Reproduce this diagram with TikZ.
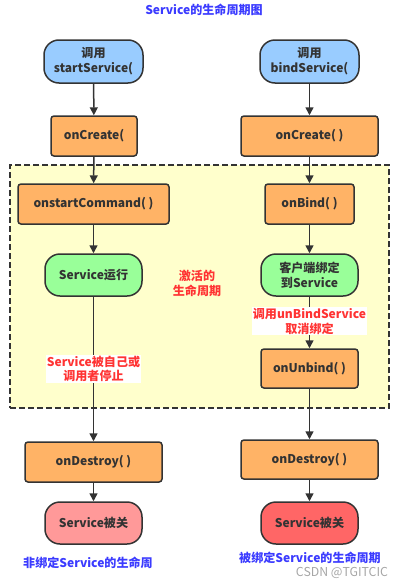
\documentclass[tikz,border=0pt]{standalone}
\usepackage{fontspec}
\setmainfont{Noto Sans CJK SC}
\usetikzlibrary{arrows.meta}
\newlength\px \setlength\px{0.03cm}
\definecolor{ink}{HTML}{333333}
\definecolor{startfill}{HTML}{99CCFF}
\definecolor{procfill}{HTML}{FFB366}
\definecolor{runfill}{HTML}{99FF99}
\definecolor{stopfill}{HTML}{FF9999}
\definecolor{stopfillb}{HTML}{FF6666}
\definecolor{areafill}{HTML}{FFFFCC}
\definecolor{titleblue}{HTML}{3B3BFF}
\definecolor{notered}{HTML}{FF3333}
\tikzset{
  box/.style={draw=ink, line width=1.5\px, text=ink, align=center, inner sep=0pt,
    font=\bfseries\fontsize{10.3}{13}\selectfont},
  proc/.style={box, fill=procfill, rounded corners=3\px, minimum height=40\px},
  term/.style={box, rounded corners=15\px, minimum width=97\px, minimum height=42\px},
  flow/.style={draw=ink, line width=1.5\px, -{Triangle[length=6.8pt,width=6.8pt]}},
  note/.style={text=notered, align=center, inner sep=1\px, font=\bfseries\fontsize{10.3}{12.5}\selectfont},
  caption/.style={text=titleblue, font=\bfseries\fontsize{10.3}{12.5}\selectfont}
}
\begin{document}
\begin{tikzpicture}[x=1\px, y=-1\px]
  \useasboundingbox (0,0) rectangle (404,585);
  \node (active) at (199.5,286.5) [draw=ink, line width=1.5\px, dash pattern=on 6\px off 3\px, fill=areafill, minimum width=379\px, minimum height=243\px] {};

  \node (title) at (204,10) [caption] {Service的生命周期图};

  \node (startL) at (93.5,61.5) [term, fill=startfill, minimum width=99\px, minimum height=43\px] {调用\\startService(};
  \node (createL) at (94,136) [proc, minimum width=86\px] {onCreate(};
  \node (cmdL) at (93.5,204) [proc, minimum width=151\px] {onstartCommand( )};
  \node (runL) at (93.5,275) [term, fill=runfill] {Service运行};
  \node (destroyL) at (93.5,462) [proc, minimum width=137\px] {onDestroy( )};
  \node (closeL) at (93.5,523) [term, fill=stopfill] {Service被关};

  \node (startR) at (309.5,61.5) [term, fill=startfill, minimum width=99\px, minimum height=43\px] {调用\\bindService(};
  \node (createR) at (309.5,136) [proc, minimum width=137\px] {onCreate( )};
  \node (bindR) at (309.5,204) [proc, minimum width=89\px] {onBind( )};
  \node (runR) at (309.5,275) [term, fill=runfill] {客户端绑定\\到Service};
  \node (unbindR) at (309.5,368.5) [proc, minimum width=97\px, minimum height=39\px] {onUnbind( )};
  \node (destroyR) at (309.5,459.5) [proc, minimum width=137\px, minimum height=39\px] {onDestroy( )};
  \node (closeR) at (309.5,523) [term, fill=stopfillb] {Service被关};

  \node (lifeNote) at (197,283.5) [note] {激活的\\生命周期};

  \draw[flow] (startL) -- (createL);
  \draw[flow] (createL) -- (cmdL);
  \draw[flow] (cmdL) -- (runL);
  \draw[flow] (runL) -- (destroyL) node[note, pos=0.5, fill=white] {Service被自己或\\调用者停止};
  \draw[flow] (destroyL) -- (closeL);

  \draw[flow] (startR) -- (createR);
  \draw[flow] (createR) -- (bindR);
  \draw[flow] (bindR) -- (runR);
  \draw[flow] (runR) -- (unbindR) node[note, pos=0.48, fill=white] {调用unBindService\\取消绑定};
  \draw[flow] (unbindR) -- (destroyR);
  \draw[flow] (destroyR) -- (closeR);

  \node (capL) at (88,563) [caption] {非绑定Service的生命周};
  \node (capR) at (310,558) [caption] {被绑定Service的生命周期};
  \node (mark) at (342,573) [text=black!35, font=\fontsize{10.5}{12}\selectfont] {CSDN @TGITCIC};
\end{tikzpicture}
\end{document}
